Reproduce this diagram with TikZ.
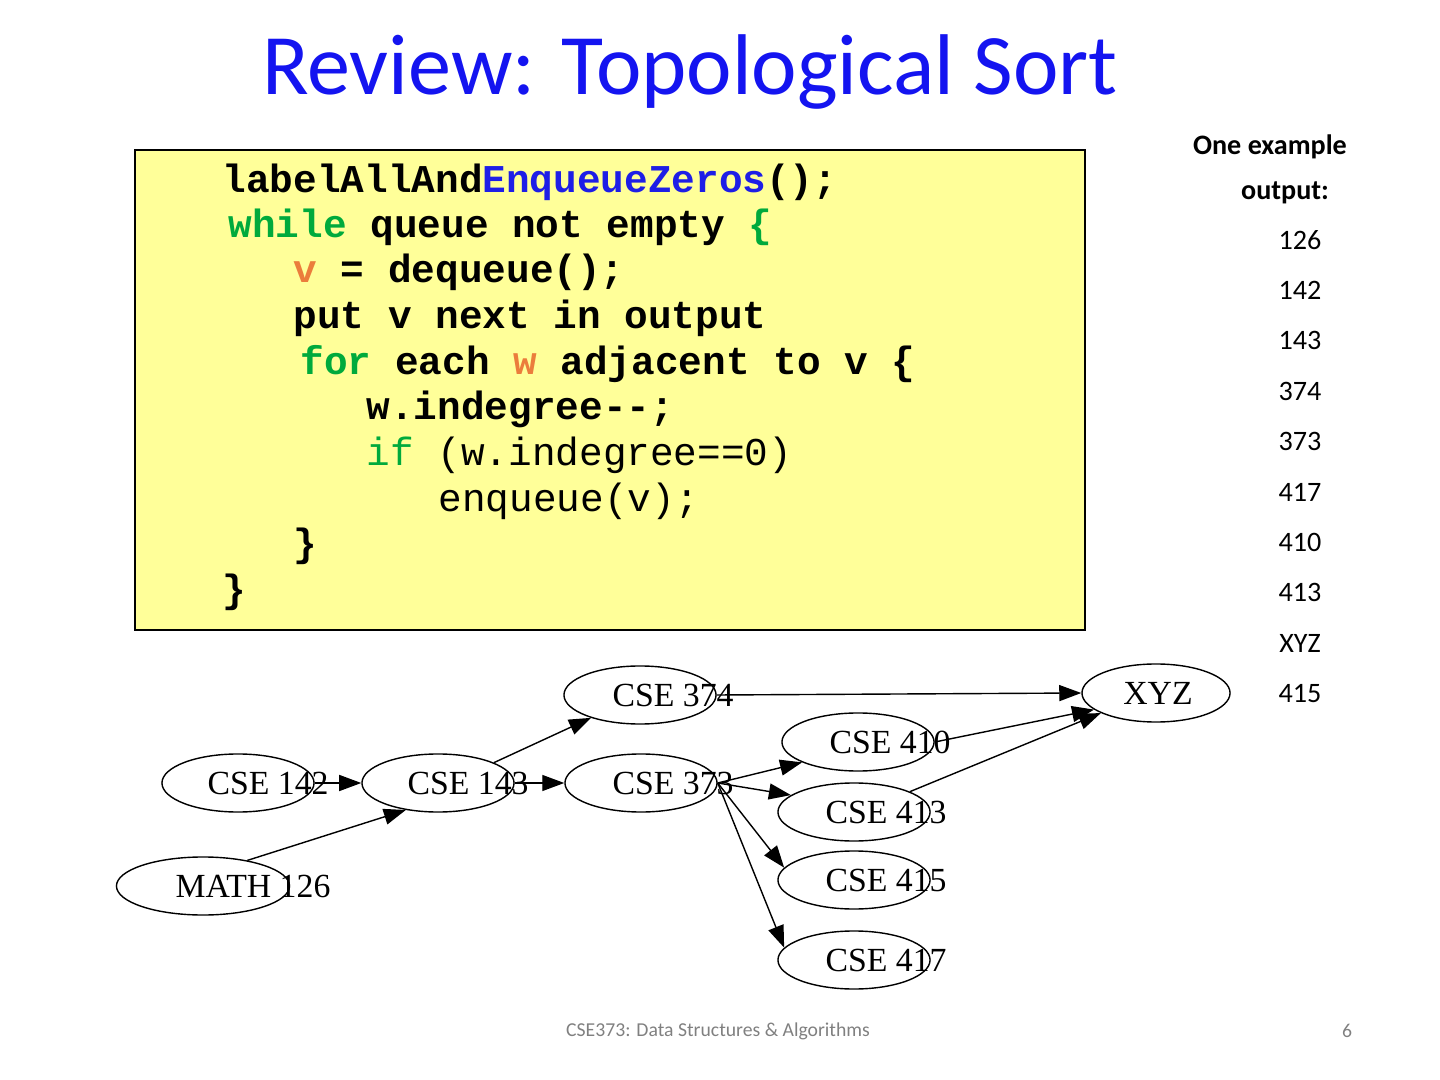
\documentclass[tikz,border=0pt]{standalone}
\usepackage{fontspec}
\setmainfont{Carlito}
\setmonofont{Liberation Mono}
\newfontfamily\timesfont{Liberation Serif}
\usetikzlibrary{shapes.geometric,arrows.meta,positioning}
\definecolor{titleblue}{RGB}{20,20,240}
\definecolor{codeyellow}{RGB}{255,255,153}
\definecolor{kwgreen}{RGB}{0,170,60}
\definecolor{varorange}{RGB}{235,125,60}
\definecolor{fnblue}{RGB}{30,30,230}
\tikzset{
  course/.style={draw,ellipse,minimum width=1.52cm,minimum height=0.58cm,inner sep=0pt},
  ctext/.style={font=\timesfont\fontsize{9.6}{10}\selectfont},
  codeline/.style={anchor=base west,inner sep=0pt,font=\ttfamily\bfseries\fontsize{11.2}{12}\selectfont},
  codeplain/.style={anchor=base west,inner sep=0pt,font=\ttfamily\fontsize{11.2}{12}\selectfont},
  outnum/.style={font=\fontsize{8}{9}\selectfont},
  edge/.style={-{Triangle[length=2.2mm,width=1.6mm]},thin}
}
\begin{document}
\begin{tikzpicture}[x=0.01cm,y=-0.01cm]
\useasboundingbox (0,0) rectangle (1440,1080);
% Title
\node (title) at (690,72) {\color{titleblue}\fontsize{24.5}{28}\selectfont Review: Topological Sort};

% Code box
\draw[fill=codeyellow] (135,150) rectangle (1085,630);
\node[codeline] (c1) at (222,193) {labelAllAnd\textcolor{fnblue}{EnqueueZeros}();};
\node[codeline] (c2) at (228,238) {\textcolor{kwgreen}{while} queue not empty \textcolor{kwgreen}{\{}};
\node[codeline] (c3) at (293,283) {\textcolor{varorange}{v} = dequeue();};
\node[codeline] (c4) at (293,329) {put v next in output};
\node[codeline] (c5) at (300,375) {\textcolor{kwgreen}{for} each \textcolor{varorange}{w} adjacent to v \{};
\node[codeline] (c6) at (366,420) {w.indegree--;};
\node[codeplain] (c7) at (366,466) {\textcolor{kwgreen}{if} (w.indegree==0)};
\node[codeplain] (c8) at (438,512) {enqueue(v);};
\node[codeline] (c9) at (293,557) {\}};
\node[codeline] (c10) at (222,603) {\}};

% Example output
\node[font=\bfseries\fontsize{8}{9}\selectfont] (ex1) at (1270,147) {One example};
\node[font=\bfseries\fontsize{8}{9}\selectfont] (ex2) at (1285,193) {output:};
\foreach \v [count=\i from 0] in {126,142,143,374,373,417,410,413,XYZ,415}
  \node[outnum] (o\i) at (1300,240+50.4*\i) {\v};

% Graph
\node[course,minimum width=1.48cm,label={[ctext,xshift=0.02cm]center:XYZ}] (xyz) at (1156,693) {};
\node[course,label={[ctext,xshift=0.33cm]center:CSE 374}] (n374) at (640,695) {};
\node[course,label={[ctext,xshift=0.32cm]center:CSE 410}] (n410) at (858,742) {};
\node[course,label={[ctext,xshift=0.30cm]center:CSE 142}] (n142) at (238,783) {};
\node[course,label={[ctext,xshift=0.30cm]center:CSE 143}] (n143) at (438,783) {};
\node[course,label={[ctext,xshift=0.32cm]center:CSE 373}] (n373) at (641,783) {};
\node[course,label={[ctext,xshift=0.32cm]center:CSE 413}] (n413) at (854,812) {};
\node[course,label={[ctext,xshift=0.32cm]center:CSE 415}] (n415) at (854,880) {};
\node[course,minimum width=1.73cm,label={[ctext,xshift=0.50cm]center:MATH 126}] (n126) at (203,886) {};
\node[course,label={[ctext,xshift=0.32cm]center:CSE 417}] (n417) at (854,960) {};

\draw[edge] (n142) -- (n143);
\draw[edge] (n143) -- (n373);
\draw[edge] (n143.20) -- (n374.205);
\draw[edge] (n126.30) -- (n143.220);
\draw[edge] (n374.east) -- (xyz.west);
\draw[edge] (n373.east) -- (n410.200);
\draw[edge] (n373.east) -- (n413.165);
\draw[edge] (n373.east) -- (n415.170);
\draw[edge] (n373.east) -- (n417.170);
\draw[edge] (n410.east) -- (xyz.195);
\draw[edge] (n413.20) -- (xyz.200);

% Footer
\node[text=gray,font=\fontsize{5.6}{6}\selectfont] (foot) at (718,1031) {CSE373: Data Structures \& Algorithms};
\node[text=gray,font=\fontsize{5.6}{6}\selectfont] (page) at (1347,1031) {6};
\end{tikzpicture}
\end{document}
